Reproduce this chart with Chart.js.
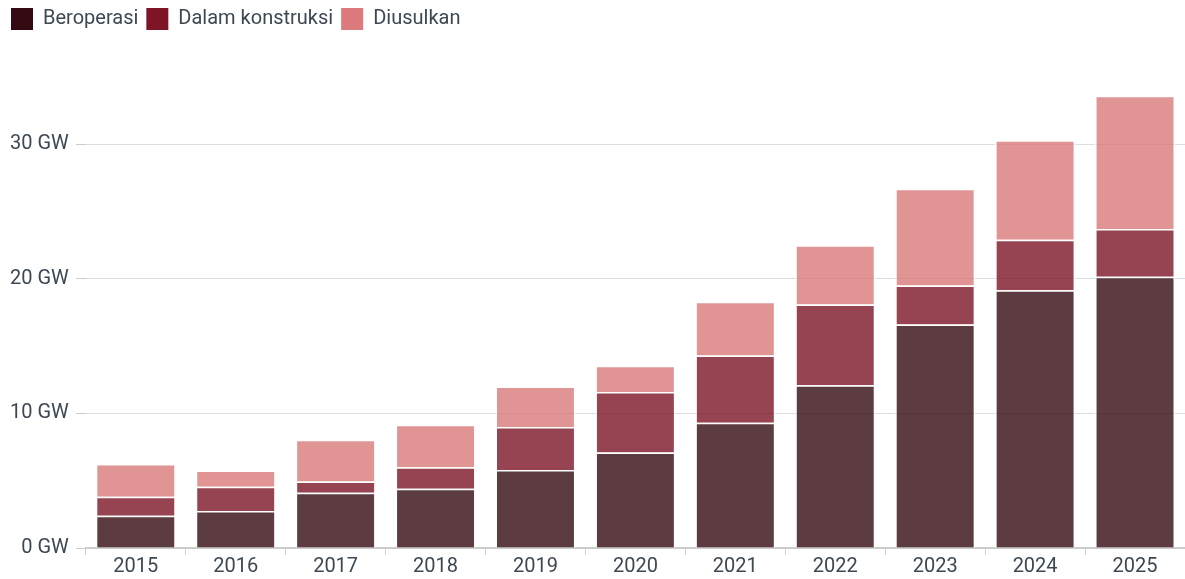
<!DOCTYPE html>
<html>
<head>
<meta charset="utf-8">
<script src="https://cdn.jsdelivr.net/npm/chart.js@4/dist/chart.umd.min.js"></script>
<style>
  html, body { margin: 0; padding: 0; background: #fff; }
  #wrap { width: 1185px; height: 579px; position: relative; }
</style>
</head>
<body>
<div id="wrap"><canvas id="chart"></canvas></div>
<script>
// data (GW)
const years = ['2015', '2016', '2017', '2018', '2019', '2020', '2021', '2022', '2023', '2024', '2025'];
const beroperasi = [2.4, 2.75, 4.1, 4.4, 5.8, 7.1, 9.3, 12.1, 16.6, 19.15, 20.15];
const dalamKonstruksi = [1.4, 1.8, 0.85, 1.6, 3.2, 4.5, 5.0, 6.0, 2.9, 3.75, 3.55];
const diusulkan = [2.45, 1.2, 3.1, 3.15, 3.0, 1.95, 4.0, 4.4, 7.2, 7.4, 9.9];
const yTicks = [0, 10, 20, 30];

const TEXT = '#3d4852';
const FONT = 'Roboto';

const series = [
    { label: 'Beroperasi', data: beroperasi, solid: '#330a12', bar: 'rgba(51,10,18,0.8)' },
    { label: 'Dalam konstruksi', data: dalamKonstruksi, solid: '#7d1527', bar: 'rgba(125,21,39,0.8)' },
    { label: 'Diusulkan', data: diusulkan, solid: '#dd7a7e', bar: 'rgba(214,112,112,0.75)' }
];

// push the plot down below the legend
const legendGap = {
    id: 'legendGap',
    beforeInit(chart) {
        const fit = chart.legend.fit;
        chart.legend.fit = function () {
            fit.call(this);
            this.height += 37;
        };
    }
};

new Chart(document.getElementById('chart'), {
    type: 'bar',
    data: {
        labels: years,
        datasets: series.map(s => ({
            label: s.label,
            data: s.data,
            backgroundColor: s.bar,
            borderColor: '#fff',
            borderWidth: 1.5,
            barPercentage: 0.8,
            categoryPercentage: 1
        }))
    },
    plugins: [legendGap],
    options: {
        responsive: true,
        maintainAspectRatio: false,
        animation: false,
        layout: { padding: { left: 3, right: 0, top: 0, bottom: 0 } },
        plugins: {
            legend: {
                position: 'top',
                align: 'start',
                labels: {
                    color: TEXT,
                    font: { family: FONT, size: 20 },
                    boxWidth: 22,
                    boxHeight: 22,
                    padding: 8,
                    generateLabels(chart) {
                        return series.map((s, i) => ({
                            text: s.label,
                            fillStyle: s.solid,
                            strokeStyle: s.solid,
                            lineWidth: 0,
                            fontColor: TEXT,
                            datasetIndex: i,
                            hidden: false
                        }));
                    }
                }
            },
            tooltip: { enabled: false }
        },
        scales: {
            x: {
                stacked: true,
                grid: { display: true, drawOnChartArea: false, drawTicks: true, tickLength: 7, tickColor: '#d0d0d0' },
                border: { display: true, color: '#cccccc', width: 2 },
                ticks: { color: TEXT, font: { family: FONT, size: 20 }, padding: 0 }
            },
            y: {
                stacked: true,
                min: 0,
                max: 35,
                afterBuildTicks(axis) {
                    axis.ticks = yTicks.map(v => ({ value: v }));
                },
                grid: { color: '#dddddd', tickLength: 10, tickColor: '#cccccc' },
                border: { display: false },
                ticks: {
                    color: TEXT,
                    font: { family: FONT, size: 20 },
                    padding: 7,
                    callback: v => v + ' GW'
                }
            }
        }
    }
});
</script>
</body>
</html>
